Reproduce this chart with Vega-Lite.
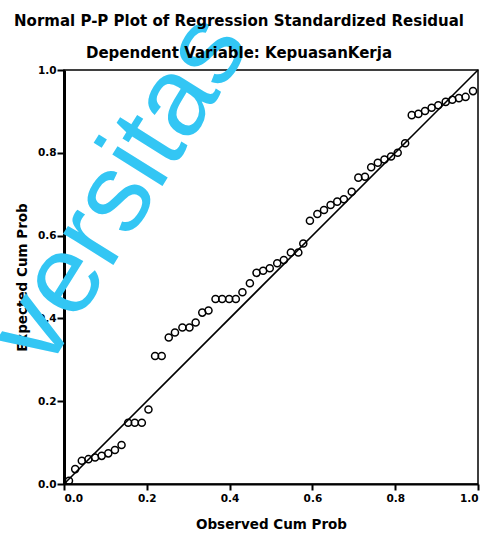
{
  "$schema": "https://vega.github.io/schema/vega-lite/v6.json",
  "autosize": {"type": "none"},
  "padding": {"left": 64, "top": 70, "right": 8, "bottom": 49},
  "width": 414,
  "height": 414,
  "background": "white",
  "title": {
    "text": ["Normal P-P Plot of Regression Standardized Residual", "Dependent Variable: KepuasanKerja"],
    "font": "DejaVu Sans",
    "fontSize": 15,
    "fontWeight": "bold",
    "color": "black",
    "lineHeight": 32,
    "anchor": "middle",
    "dx": -32,
    "dy": 72,
    "offset": 8
  },
  "config": {
    "view": {"stroke": "black", "strokeWidth": 1.5},
    "axis": {
      "grid": false,
      "labelFont": "DejaVu Sans",
      "labelFontWeight": "bold",
      "labelFontSize": 10.5,
      "labelColor": "black",
      "titleFont": "DejaVu Sans",
      "titleFontWeight": "bold",
      "titleFontSize": 13.5,
      "titleColor": "black",
      "domainColor": "black",
      "tickColor": "black",
      "tickWidth": 2
    }
  },
  "datasets": {
    "pts": [
      {"obs": 0.012, "exp": 0.008}, {"obs": 0.027, "exp": 0.036}, {"obs": 0.043, "exp": 0.056},
      {"obs": 0.059, "exp": 0.060}, {"obs": 0.075, "exp": 0.064}, {"obs": 0.091, "exp": 0.068},
      {"obs": 0.107, "exp": 0.074}, {"obs": 0.123, "exp": 0.082}, {"obs": 0.139, "exp": 0.094},
      {"obs": 0.155, "exp": 0.148}, {"obs": 0.171, "exp": 0.148}, {"obs": 0.188, "exp": 0.148},
      {"obs": 0.204, "exp": 0.180}, {"obs": 0.220, "exp": 0.309}, {"obs": 0.236, "exp": 0.309},
      {"obs": 0.253, "exp": 0.354}, {"obs": 0.268, "exp": 0.366}, {"obs": 0.286, "exp": 0.378},
      {"obs": 0.303, "exp": 0.378}, {"obs": 0.318, "exp": 0.390}, {"obs": 0.334, "exp": 0.414},
      {"obs": 0.349, "exp": 0.419}, {"obs": 0.366, "exp": 0.447}, {"obs": 0.382, "exp": 0.447},
      {"obs": 0.399, "exp": 0.447}, {"obs": 0.415, "exp": 0.447}, {"obs": 0.431, "exp": 0.463},
      {"obs": 0.449, "exp": 0.485}, {"obs": 0.465, "exp": 0.510}, {"obs": 0.481, "exp": 0.515},
      {"obs": 0.497, "exp": 0.521}, {"obs": 0.515, "exp": 0.533}, {"obs": 0.531, "exp": 0.541},
      {"obs": 0.548, "exp": 0.559}, {"obs": 0.566, "exp": 0.559}, {"obs": 0.578, "exp": 0.581},
      {"obs": 0.594, "exp": 0.636}, {"obs": 0.612, "exp": 0.652}, {"obs": 0.628, "exp": 0.662},
      {"obs": 0.644, "exp": 0.674}, {"obs": 0.660, "exp": 0.682}, {"obs": 0.676, "exp": 0.688},
      {"obs": 0.695, "exp": 0.706}, {"obs": 0.711, "exp": 0.740}, {"obs": 0.727, "exp": 0.742},
      {"obs": 0.742, "exp": 0.765}, {"obs": 0.758, "exp": 0.776}, {"obs": 0.774, "exp": 0.784},
      {"obs": 0.790, "exp": 0.791}, {"obs": 0.806, "exp": 0.800}, {"obs": 0.824, "exp": 0.823},
      {"obs": 0.840, "exp": 0.891}, {"obs": 0.856, "exp": 0.894}, {"obs": 0.872, "exp": 0.901},
      {"obs": 0.888, "exp": 0.909}, {"obs": 0.904, "exp": 0.915}, {"obs": 0.922, "exp": 0.923},
      {"obs": 0.938, "exp": 0.928}, {"obs": 0.954, "exp": 0.932}, {"obs": 0.970, "exp": 0.935},
      {"obs": 0.988, "exp": 0.949}
    ],
    "diag": [{"obs": 0, "exp": 0}, {"obs": 1, "exp": 1}],
    "mark": [{"label": "versitas", "obs": 0.135, "exp": 0.71}]
  },
  "layer": [
    {
      "data": {"name": "diag"},
      "mark": {"type": "line", "color": "black", "strokeWidth": 1.6},
      "encoding": {
        "x": {"field": "obs", "type": "quantitative", "scale": {"domain": [0, 1], "nice": false},
              "axis": {"values": [0, 0.2, 0.4, 0.6, 0.8, 1.0], "format": ".1f", "title": "Observed Cum Prob",
                       "domainWidth": 2, "tickSize": 6, "labelPadding": 3, "titlePadding": 14}},
        "y": {"field": "exp", "type": "quantitative", "scale": {"domain": [0, 1], "nice": false},
              "axis": {"values": [0, 0.2, 0.4, 0.6, 0.8, 1.0], "format": ".1f", "title": "Expected Cum Prob",
                       "domainWidth": 3, "tickSize": 7, "labelPadding": 1, "titlePadding": 8}}
      }
    },
    {
      "data": {"name": "pts"},
      "mark": {"type": "point", "shape": "circle", "filled": false, "stroke": "black", "strokeWidth": 1.5, "size": 50, "opacity": 1},
      "encoding": {
        "x": {"field": "obs", "type": "quantitative"},
        "y": {"field": "exp", "type": "quantitative"}
      }
    },
    {
      "data": {"name": "mark"},
      "mark": {"type": "text", "font": "Liberation Sans", "fontSize": 112, "color": "#33C6F4", "angle": 302, "align": "center", "baseline": "middle"},
      "encoding": {
        "x": {"field": "obs", "type": "quantitative"},
        "y": {"field": "exp", "type": "quantitative"},
        "text": {"field": "label"}
      }
    }
  ]
}
